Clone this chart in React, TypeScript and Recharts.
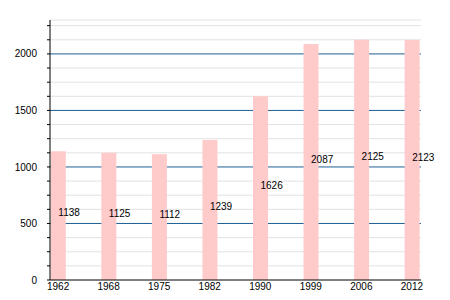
import React from 'react';
import { BarChart, Bar, XAxis, YAxis, CartesianGrid, LabelList } from 'recharts';

const years = ['1962', '1968', '1975', '1982', '1990', '1999', '2006', '2012'];
const population = [1138, 1125, 1112, 1239, 1626, 2087, 2125, 2123];
const yTicks = [0, 125, 250, 375, 500, 625, 750, 875, 1000, 1125, 1250, 1375, 1500, 1625, 1750, 1875, 2000, 2125, 2250];
const xTicks = [0, 1, 2, 3, 4, 5, 6, 7];

const data = years.map((year, i) => ({ idx: i, year, value: population[i] }));

const FONT = 'Liberation Sans, Arial, sans-serif';

// gray lines every 125, blue ones on the labelled ticks
const GridLine = (props: any) => {
  const v = yTicks[props.index];
  if (v === 0) return null;
  const major = v % 500 === 0;
  return (
    <line
      x1={props.x1}
      y1={props.y1}
      x2={props.x2}
      y2={props.y2}
      stroke={major ? '#1f5f94' : '#e2e2e2'}
      strokeWidth={1}
    />
  );
};

const ValueLabel = (props: any) => {
  const { x, y, width, height, value } = props;
  return (
    <text
      x={x + width / 2}
      y={y + height / 2 - 3}
      dy="0.35em"
      textAnchor="start"
      fontSize={10}
      fontFamily={FONT}
      fill="#000"
    >
      {value}
    </text>
  );
};

export default function App() {
  return (
    <div style={{ position: 'absolute', left: 0, top: 0, width: 450, height: 300, background: '#fff' }}>
      <BarChart width={450} height={300} data={data} margin={{ top: 20, right: 29, bottom: 0, left: 0 }}>
        <defs>
          <filter id="soft" x="-20%" y="-5%" width="140%" height="110%">
            <feGaussianBlur stdDeviation="0.7" />
          </filter>
        </defs>
        <CartesianGrid vertical={false} horizontal={GridLine} />
        <XAxis
          dataKey="idx"
          type="number"
          domain={[-0.16, 7.18]}
          ticks={xTicks}
          tickFormatter={(i: number) => years[i]}
          height={20}
          tickLine={false}
          tickSize={0}
          tickMargin={3}
          axisLine={{ stroke: '#000' }}
          tick={{ fontSize: 10, fontFamily: FONT, fill: '#000' }}
          interval={0}
        />
        <YAxis
          type="number"
          domain={[0, 2300]}
          ticks={yTicks}
          tickFormatter={(v: number) => (v % 500 === 0 ? String(v) : '')}
          width={50}
          tickSize={3}
          tickMargin={10}
          tickLine={{ stroke: '#000' }}
          axisLine={{ stroke: '#000' }}
          tick={{ fontSize: 10, fontFamily: FONT, fill: '#000' }}
          interval={0}
          allowDataOverflow
        />
        <Bar dataKey="value" fill="#ffcaca" barSize={15} isAnimationActive={false} style={{ filter: 'url(#soft)' }}>
          <LabelList dataKey="value" content={ValueLabel} />
        </Bar>
      </BarChart>
    </div>
  );
}
